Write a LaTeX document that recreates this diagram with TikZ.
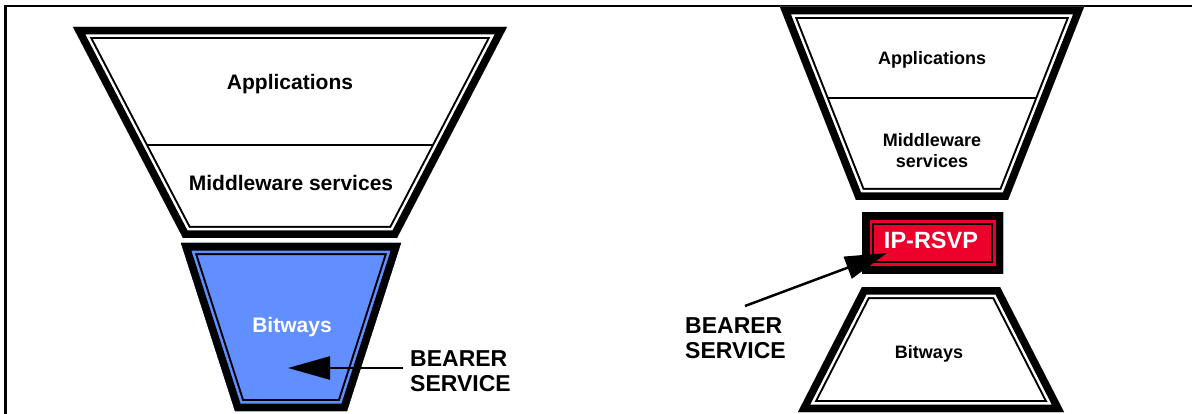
\documentclass[tikz,border=0pt]{standalone}
\usepackage{fontspec}
\setmainfont{Liberation Sans}
\usepackage{tikz}
\usetikzlibrary{arrows.meta,positioning}
\definecolor{bitblue}{RGB}{98,143,255}
\definecolor{rsvpred}{RGB}{237,0,43}

% thick outer band, thin gap, thin inner line, all inside the outline
\newcommand{\layerframe}[3]{%
  \begin{scope}
    \clip #1;
    \fill[#2] #1;
    #3
    \draw[line width=24pt] #1;
    \draw[#2, line width=20pt] #1;
    \draw[line width=15pt] #1;
  \end{scope}}

\begin{document}
\begin{tikzpicture}[
  x=1pt, y=-1pt,
  biglbl/.style={font=\fontsize{21}{23}\selectfont\bfseries, align=center},
  smalllbl/.style={font=\fontsize{18}{21}\selectfont\bfseries, align=center},
  bearer/.style={font=\fontsize{23}{25}\selectfont\bfseries, align=left, anchor=north west, inner sep=0pt},
  pointer/.style={-{Triangle[length=42pt,width=23pt]}, line width=2.5pt},
  divider/.style={line width=1.8pt}
]
\useasboundingbox (0,0) rectangle (1194,414);

% frame
\draw[line width=2.8pt] (5.5,414) -- (5.5,6) -- (1192,6);

% left stack
\layerframe{(73,27) -- (507,27) -- (397,238) -- (183,238) -- cycle}{white}
  {\draw[divider] (0,145) -- (1194,145);}
\layerframe{(181,243) -- (401,243) -- (347,411) -- (235,411) -- cycle}{bitblue}{}

\node[biglbl] (appsL) at (290,84) {Applications};
\node[biglbl] (midL) at (291,183) {Middleware services};
\node[biglbl, text=white] (bitL) at (292,327) {Bitways};

\node[bearer] (bearerL) at (410,350) {BEARER\\SERVICE};
\coordinate (tailL) at (403,368);
\coordinate (tipL) at (288,368);
\draw[pointer] (tailL) -- (tipL);

% right stack
\layerframe{(780,7) -- (1084,7) -- (1008,200) -- (856,200) -- cycle}{white}
  {\draw[divider] (700,98) -- (1100,98);}
\layerframe{(862,213) -- (1003,213) -- (1003,273) -- (862,273) -- cycle}{rsvpred}{}
\layerframe{(862,287) -- (1000,287) -- (1064,412) -- (798,412) -- cycle}{white}{}

\node[smalllbl] (appsR) at (932,60) {Applications};
\node[smalllbl] (midR) at (932,151) {Middleware\\services};
\node[font=\fontsize{23.5}{25}\selectfont\bfseries, text=white] (rsvp) at (931,240) {IP-RSVP};
\node[smalllbl] (bitR) at (929,354) {Bitways};

\node[bearer] (bearerR) at (685,317) {BEARER\\SERVICE};
\coordinate (tailR) at (745,306);
\coordinate (tipR) at (887,253);
\draw[pointer] (tailR) -- (tipR);
\end{tikzpicture}
\end{document}
